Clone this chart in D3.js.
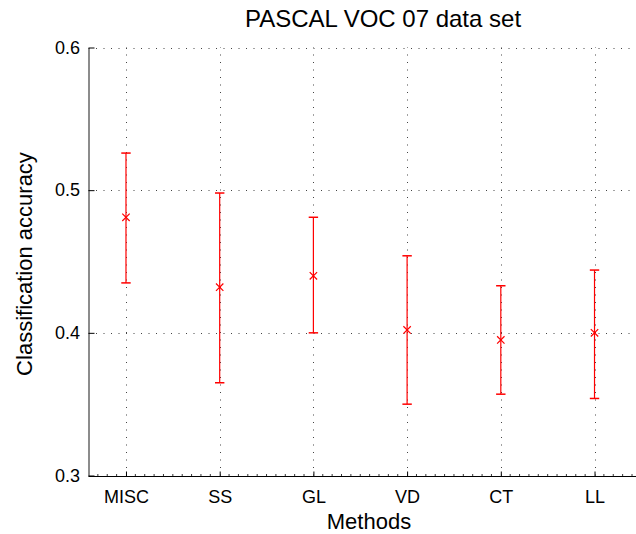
<!DOCTYPE html>
<html>
<head>
<meta charset="utf-8">
<script src="https://cdn.jsdelivr.net/npm/d3@7"></script>
<style>
  body { margin: 0; background: #fff; }
  svg { display: block; font-family: "Liberation Sans", Arial, Helvetica, sans-serif; }
</style>
</head>
<body>
<svg id="chart" width="636" height="534"></svg>
<script>
const methods = ["MISC", "SS", "GL", "VD", "CT", "LL"];
const means = [0.481, 0.432, 0.440, 0.402, 0.395, 0.400];
const upper = [0.526, 0.498, 0.481, 0.454, 0.433, 0.444];
const lower = [0.435, 0.365, 0.400, 0.350, 0.357, 0.354];
const yTicks = [0.3, 0.4, 0.5, 0.6];
const title = "PASCAL VOC 07 data set";
const xLabel = "Methods";
const yLabel = "Classification accuracy";

const data = methods.map((m, i) => ({ m, i: i + 1, mean: means[i], hi: upper[i], lo: lower[i] }));

const svg = d3.select("#chart");
const x = d3.scaleLinear().domain([0.6, 6.4]).range([88.5, 632]);
const y = d3.scaleLinear().domain([0.3, 0.6]).range([475.5, 47.5]);

// grid
const grid = svg.append("g").attr("stroke", "#444").attr("stroke-width", 1).attr("stroke-dasharray", "1,6.5");
grid.selectAll("line.h").data(yTicks.filter(t => t > 0.3)).join("line")
  .attr("x1", x(0.6)).attr("x2", x(6.4))
  .attr("y1", d => Math.round(y(d)) + 0.5).attr("y2", d => Math.round(y(d)) + 0.5);
grid.selectAll("line.v").data(data).join("line")
  .attr("x1", d => Math.round(x(d.i)) + 0.5).attr("x2", d => Math.round(x(d.i)) + 0.5)
  .attr("y1", y(0.3)).attr("y2", y(0.6));

// bottom axis
const xAxis = d3.axisBottom(x).tickValues(data.map(d => d.i)).tickFormat((d, i) => methods[i]).tickSizeInner(-5).tickSizeOuter(0).tickPadding(14);
const gx = svg.append("g").attr("transform", `translate(0,${Math.round(y(0.3)) + 0.5})`).call(xAxis);
gx.select(".domain").attr("stroke", "#000").attr("d", `M${x(0.6)},0H636`);
gx.selectAll("text").attr("font-size", 18).attr("fill", "#000").attr("font-family", "Liberation Sans, Arial, sans-serif");
// minor ticks
const minor = d3.range(7, 65).map(v => v / 10).filter(v => Math.abs(v - Math.round(v)) > 1e-6);
gx.selectAll("line.minor").data(minor).join("line").attr("class", "minor")
  .attr("x1", d => x(d)).attr("x2", d => x(d)).attr("y1", 0).attr("y2", -2.5)
  .attr("stroke", "#000").attr("stroke-width", 0.8);

// left axis
const yAxis = d3.axisLeft(y).tickValues(yTicks).tickFormat(d3.format(".1f")).tickSizeInner(-6).tickSizeOuter(0).tickPadding(8.5);
const gy = svg.append("g").attr("transform", `translate(${x(0.6)},0)`).call(yAxis);
gy.select(".domain").attr("stroke", "#666").attr("stroke-width", 1.5);
gy.selectAll(".tick line").attr("stroke", "#000");
gy.selectAll("text").attr("font-size", 18).attr("fill", "#000").attr("font-family", "Liberation Sans, Arial, sans-serif");

// error bars
const eb = svg.append("g").attr("stroke", "#ff0000").attr("stroke-width", 1.2).attr("fill", "none");
const cap = 4.7, mk = 3.7;
const g = eb.selectAll("g").data(data).join("g");
g.append("line").attr("x1", d => x(d.i)).attr("x2", d => x(d.i)).attr("y1", d => y(d.lo)).attr("y2", d => y(d.hi));
g.append("line").attr("x1", d => x(d.i) - cap).attr("x2", d => x(d.i) + cap).attr("y1", d => y(d.hi)).attr("y2", d => y(d.hi)).attr("stroke-width", 1.5);
g.append("line").attr("x1", d => x(d.i) - cap).attr("x2", d => x(d.i) + cap).attr("y1", d => y(d.lo)).attr("y2", d => y(d.lo)).attr("stroke-width", 1.5);
g.append("path").attr("d", d => {
  const cx = x(d.i), cy = y(d.mean);
  return `M${cx - mk},${cy - mk}L${cx + mk},${cy + mk}M${cx - mk},${cy + mk}L${cx + mk},${cy - mk}`;
});

// labels
svg.append("text").attr("x", 383).attr("y", 27).attr("text-anchor", "middle").attr("font-size", 24).text(title);
svg.append("text").attr("x", 369).attr("y", 529).attr("text-anchor", "middle").attr("font-size", 22).text(xLabel);
svg.append("text").attr("transform", "translate(32,264) rotate(-90)").attr("text-anchor", "middle").attr("font-size", 22).text(yLabel);
</script>
</body>
</html>
